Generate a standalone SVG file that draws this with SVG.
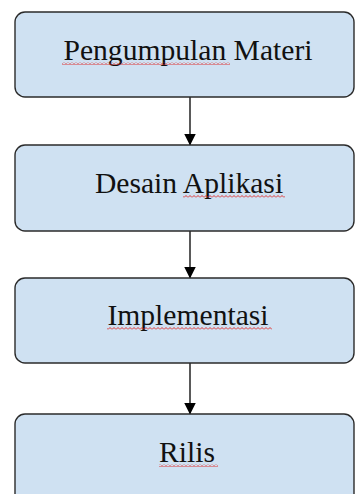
<svg xmlns="http://www.w3.org/2000/svg" width="355" height="494" viewBox="0 0 355 494">
<style>
.box{fill:#cfe1f2;stroke:#2b2b2b;stroke-width:1.4}
.lbl{font-family:"Liberation Serif","Times New Roman",serif;font-size:29.6px;fill:#111;text-anchor:middle}
.sq{fill:none;stroke:#e0201e;stroke-width:0.9}
.conn{stroke:#000;stroke-width:1.3;fill:none}
</style>
<defs>
<marker id="ah" markerWidth="12" markerHeight="13" refX="11.5" refY="6" orient="auto" markerUnits="userSpaceOnUse">
<path d="M0,0 L12,6 L0,12 Z" fill="#000"/>
</marker>
<pattern id="wave" width="4" height="3" patternUnits="userSpaceOnUse">
<path d="M0,2.5 L2,0.5 L4,2.5" fill="none" stroke="#e0201e" stroke-width="0.9"/>
</pattern>
</defs>
<rect x="0" y="0" width="355" height="494" fill="#fff"/>
<g id="connectors">
<line class="conn" x1="190" y1="97" x2="190" y2="145" marker-end="url(#ah)"/>
<line class="conn" x1="190" y1="231" x2="190" y2="278" marker-end="url(#ah)"/>
<line class="conn" x1="190" y1="363" x2="190" y2="414" marker-end="url(#ah)"/>
</g>
<g id="node1">
<rect class="box" x="15" y="12" width="339" height="85" rx="10"/>
<text class="lbl" x="188" y="60">Pengumpulan Materi</text>
<rect x="62" y="62" width="168" height="3" fill="url(#wave)"/>
</g>
<g id="node2">
<rect class="box" x="15" y="145" width="339" height="86" rx="10"/>
<text class="lbl" x="189" y="193">Desain Aplikasi</text>
<rect x="183" y="195" width="102" height="3" fill="url(#wave)"/>
</g>
<g id="node3">
<rect class="box" x="15" y="278" width="339" height="85" rx="10"/>
<text class="lbl" x="188" y="325">Implementasi</text>
<rect x="107" y="327" width="165" height="3" fill="url(#wave)"/>
</g>
<g id="node4">
<rect class="box" x="15" y="414" width="339" height="100" rx="10"/>
<text class="lbl" x="187" y="462">Rilis</text>
<rect x="159" y="464" width="59" height="3" fill="url(#wave)"/>
</g>
</svg>
